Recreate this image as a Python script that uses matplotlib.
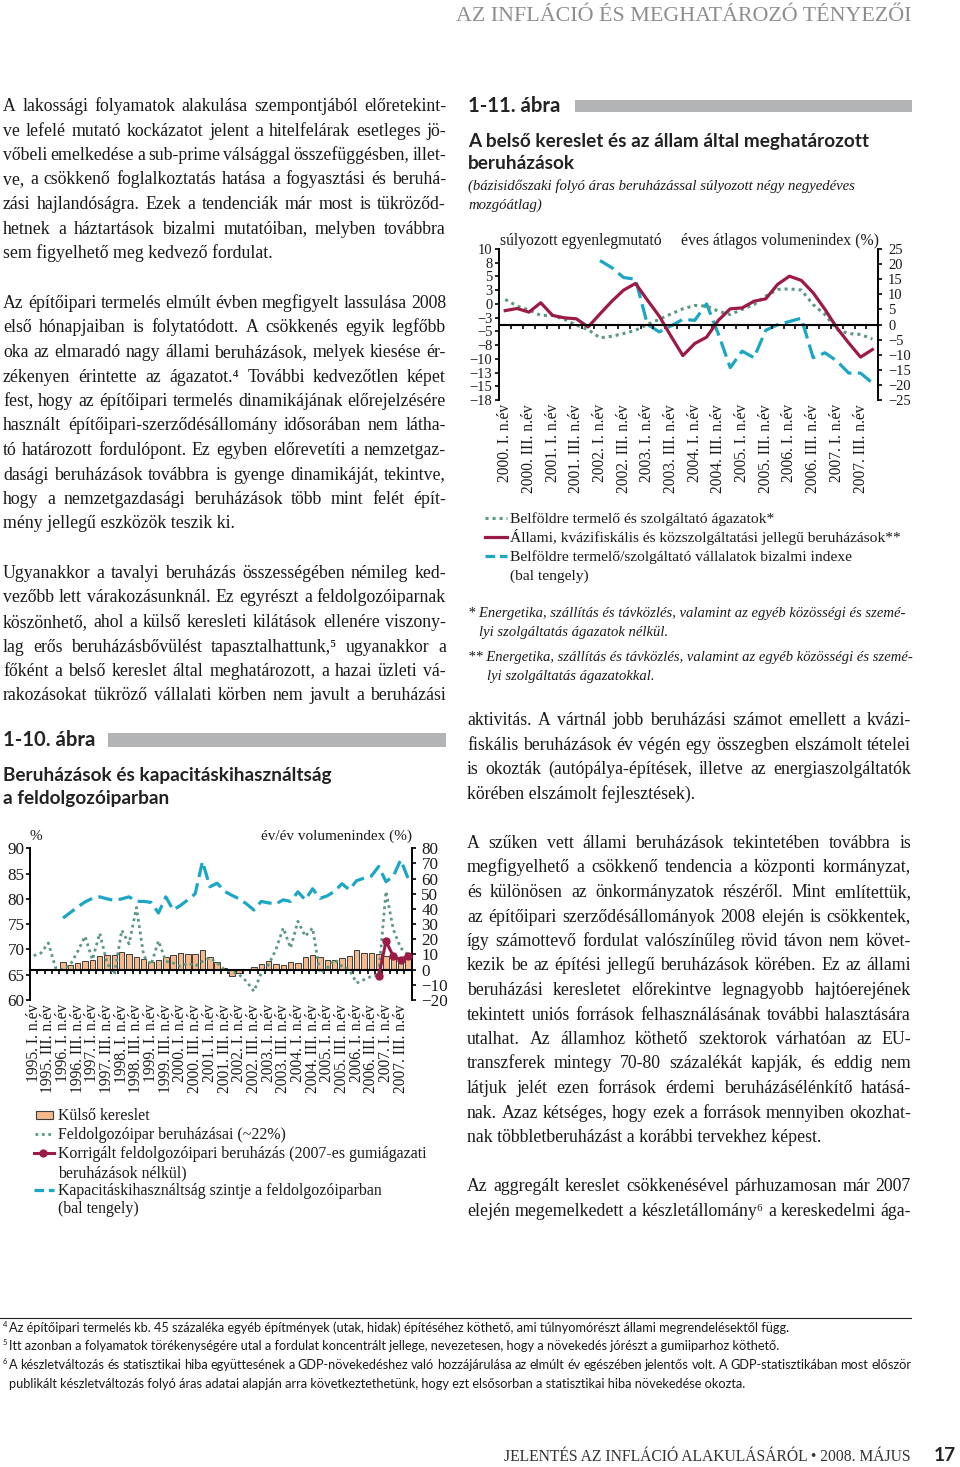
import numpy as np
import matplotlib
matplotlib.use("Agg")
import matplotlib.pyplot as plt
from matplotlib.lines import Line2D
from matplotlib.patches import Rectangle
from matplotlib.font_manager import FontProperties, fontManager

# ---------------- data: chart 1-11 (2000 Q1 .. 2007 Q4) ----------------
labels_11 = [f"{y}. {q}. n.év" for y in range(2000, 2008) for q in ("I", "III")]
red_11 = [4.6, 5.3, 4.1, 7.2, 3.0, 2.2, 1.9, -0.8, 3.5, 7.7, 11.4, 13.6, 8.1, 2.8, -3.9, -10.3,
          -6.3, -4.2, 1.4, 5.2, 5.5, 7.7, 8.5, 13.3, 16.0, 14.6, 10.5, 5.0, -1.1, -6.1, -10.8, -8.3]
green_11 = [8.3, 6.1, 4.8, 3.0, 3.0, 1.7, -0.2, -1.7, -4.4, -3.9, -3.0, -1.9, 0.0, 1.7, 3.5, 5.2,
            6.3, 6.1, 4.4, 3.3, 5.0, 6.6, 9.4, 11.6, 11.8, 11.4, 6.6, 3.3, -1.7, -3.0, -3.3, -4.8]
cyan_11 = [None] * 8 + [7.9, 6.6, 4.8, 4.5, -3.7, -5.1, -4.0, -2.8, -3.0, 0.0, -5.5, -11.6,
                        -8.6, -9.8, -4.8, -3.8, -3.2, -2.6, -9.8, -8.9, -10.4, -12.6, -12.6, -14.4]
left_ticks_11 = [10, 7.5, 5, 2.5, 0, -2.5, -5, -7.5, -10, -12.5, -15, -17.5]
left_ticklabels_11 = ["10", "8", "5", "3", "0", "−3", "−5", "−8", "−10", "−13", "−15", "−18"]
right_ticks_11 = [25, 20, 15, 10, 5, 0, -5, -10, -15, -20, -25]

# ---------------- data: chart 1-10 (1995 Q1 .. 2007 Q4) ----------------
labels_10 = [f"{y}. {q}. n.év" for y in range(1995, 2008) for q in ("I", "III")]
bars_10 = [None] * 4 + [5.1, 2.9, 4.4, 5.5, 6.6, 9.2, 9.9, 9.7, 11.4, 10.3,
                        8.6, 7.0, 5.1, 6.6, 8.1, 9.5, 11.0, 10.3, 10.3, 12.7,
                        8.4, 4.8, 1.1, -4.0, -2.2, 0.3, 1.8, 4.0, 5.5, 4.0,
                        3.3, 4.8, 4.4, 8.6, 9.7, 8.1, 6.6, 6.2, 7.7, 8.8,
                        13.2, 11.0, 11.0, 10.3, 8.8, 8.8, 7.7, 9.2]
green_10 = [9.2, 11.0, 17.6, 1.1, 0.0, 3.3, 12.0, 22.0, 6.6, 24.0, 4.4, -3.3, 26.0, 17.0, 41.0, 8.8,
            3.3, 19.0, 5.5, 4.4, 2.2, 4.4, 2.2, 5.5, 7.7, 4.4, 0.0, -1.1, -3.3, -7.7, -14.3, -2.2,
            3.3, 13.2, 27.5, 14.3, 31.9, 22.0, 27.5, -2.2, 1.1, 6.6, 2.2, 0.0, -8.8, -6.6, -4.4, -3.3,
            51.6, 26.4, 14.3, 9.9]
cyan_10 = [None] * 4 + [76.2, 77.3, 78.4, 79.4, 80.1, 80.4, 80.0, 79.7, 80.0, 80.4, 79.5, 79.5,
                        79.3, 77.2, 80.4, 77.8, 78.7, 79.8, 81.0, 87.4, 82.4, 83.1, 81.5, 80.7,
                        80.0, 79.0, 77.8, 79.5, 79.2, 79.0, 79.8, 79.5, 81.4, 79.8, 82.0, 80.1,
                        80.6, 81.5, 83.0, 81.8, 83.6, 84.1, 84.5, 86.4, 83.4, 84.5, 87.7, 84.1]
red_10 = [None] * 47 + [-4.4, 18.7, 8.8, 6.6, 9.2]
left_ticks_10 = [60, 65, 70, 75, 80, 85, 90]
right_ticks_10 = [-20, -10, 0, 10, 20, 30, 40, 50, 60, 70, 80]

# ---------------- page text ----------------
header_text = "AZ INFLÁCIÓ ÉS MEGHATÁROZÓ TÉNYEZŐI"
left_par1 = [
    "A lakossági folyamatok alakulása szempontjából előretekint-",
    "ve lefelé mutató kockázatot jelent a hitelfelárak esetleges jö-",
    "vőbeli emelkedése a sub-prime válsággal összefüggésben, illet-",
    "ve, a csökkenő foglalkoztatás hatása a fogyasztási és beruhá-",
    "zási hajlandóságra. Ezek a tendenciák már most is tükröződ-",
    "hetnek a háztartások bizalmi mutatóiban, melyben továbbra",
    "sem figyelhető meg kedvező fordulat.",
]
left_par2 = [
    "Az építőipari termelés elmúlt évben megfigyelt lassulása 2008",
    "első hónapjaiban is folytatódott. A csökkenés egyik legfőbb",
    "oka az elmaradó nagy állami beruházások, melyek kiesése ér-",
    "zékenyen érintette az ágazatot.⁴ További kedvezőtlen képet",
    "fest, hogy az építőipari termelés dinamikájának előrejelzésére",
    "használt építőipari-szerződésállomány idősorában nem látha-",
    "tó határozott fordulópont. Ez egyben előrevetíti a nemzetgaz-",
    "dasági beruházások továbbra is gyenge dinamikáját, tekintve,",
    "hogy a nemzetgazdasági beruházások több mint felét épít-",
    "mény jellegű eszközök teszik ki.",
]
left_par3 = [
    "Ugyanakkor a tavalyi beruházás összességében némileg ked-",
    "vezőbb lett várakozásunknál. Ez egyrészt a feldolgozóiparnak",
    "köszönhető, ahol a külső keresleti kilátások ellenére viszony-",
    "lag erős beruházásbővülést tapasztalhattunk,⁵ ugyanakkor a",
    "főként a belső kereslet által meghatározott, a hazai üzleti vá-",
    "rakozásokat tükröző vállalati körben nem javult a beruházási",
]
right_par1 = [
    "aktivitás. A vártnál jobb beruházási számot emellett a kvázi-",
    "fiskális beruházások év végén egy összegben elszámolt tételei",
    "is okozták (autópálya-építések, illetve az energiaszolgáltatók",
    "körében elszámolt fejlesztések).",
]
right_par2 = [
    "A szűken vett állami beruházások tekintetében továbbra is",
    "megfigyelhető a csökkenő tendencia a központi kormányzat,",
    "és különösen az önkormányzatok részéről. Mint említettük,",
    "az építőipari szerződésállományok 2008 elején is csökkentek,",
    "így számottevő fordulat valószínűleg rövid távon nem követ-",
    "kezik be az építési jellegű beruházások körében. Ez az állami",
    "beruházási keresletet előrekintve legnagyobb hajtóerejének",
    "tekintett uniós források felhasználásának további halasztására",
    "utalhat. Az államhoz köthető szektorok várhatóan az EU-",
    "transzferek mintegy 70-80 százalékát kapják, és eddig nem",
    "látjuk jelét ezen források érdemi beruházásélénkítő hatásá-",
    "nak. Azaz kétséges, hogy ezek a források mennyiben okozhat-",
    "nak többletberuházást a korábbi tervekhez képest.",
]
right_par3 = [
    "Az aggregált kereslet csökkenésével párhuzamosan már 2007",
    "elején megemelkedett a készletállomány⁶ a kereskedelmi ága-",
]
footnotes = [
    ("4", "Az építőipari termelés kb. 45 százaléka egyéb építmények (utak, hidak) építéséhez köthető, ami túlnyomórészt állami megrendelésektől függ."),
    ("5", "Itt azonban a folyamatok törékenységére utal a fordulat koncentrált jellege, nevezetesen, hogy a növekedés jórészt a gumiiparhoz köthető."),
    ("6", "A készletváltozás és statisztikai hiba együttesének a GDP-növekedéshez való hozzájárulása az elmúlt év egészében jelentős volt. A GDP-statisztikában most először"),
    ("", "publikált készletváltozás folyó áras adatai alapján arra következtethetünk, hogy ezt elsősorban a statisztikai hiba növekedése okozta."),
]
legend_11 = ["Belföldre termelő és szolgáltató ágazatok*",
             "Állami, kvázifiskális és közszolgáltatási jellegű beruházások**",
             "Belföldre termelő/szolgáltató vállalatok bizalmi indexe",
             "(bal tengely)"]
legend_10 = ["Külső kereslet",
             "Feldolgozóipar beruházásai (~22%)",
             "Korrigált feldolgozóipari beruházás (2007-es gumiágazati",
             "beruházások nélkül)",
             "Kapacitáskihasználtság szintje a feldolgozóiparban",
             "(bal tengely)"]
notes_11 = ["* Energetika, szállítás és távközlés, valamint az egyéb közösségi és szemé-",
            "lyi szolgáltatás ágazatok nélkül.",
            "** Energetika, szállítás és távközlés, valamint az egyéb közösségi és szemé-",
            "lyi szolgáltatás ágazatokkal."]

# ---------------- setup ----------------
W, H = 960, 1467
PT = 0.72
fig = plt.figure(figsize=(W / 100, H / 100), dpi=100)
fig.patch.set_facecolor("white")
renderer = fig.canvas.get_renderer()
names = {f.name for f in fontManager.ttflist}


def pick(*cands):
    for c in cands:
        if c in names:
            return c
    return "DejaVu Sans"


SERIF = [pick("Liberation Serif", "DejaVu Serif"), "DejaVu Serif"]
SANSB = [pick("Lato", "Open Sans", "DejaVu Sans"), "DejaVu Sans"]
NARROW = [pick("Liberation Sans Narrow", "Lato", "DejaVu Sans"), "DejaVu Sans"]
plt.rcParams["font.family"] = SERIF

INK = "#1a1a1a"
RED = "#9c1b45"
CYAN = "#1ba6c6"
GREEN = "#5c9a80"
ORANGE = "#f7b88a"
GRAYBAR = "#b2b4b6"


def fp(size, family=SERIF, style="normal", weight="normal"):
    return FontProperties(family=family, size=size * PT, style=style, weight=weight)


def tw(s, prop):
    w, h, d = renderer.get_text_width_height_descent(s, prop, ismath=False)
    return w


def fit(s, width, family=SERIF, style="normal", weight="normal"):
    ref = 20.0
    return ref * width / tw(s, fp(ref, family, style, weight))


def put(s, x, y, prop, color=INK, ha="left"):
    return fig.text(x / W, 1 - y / H, s, fontproperties=prop, color=color, ha=ha, va="baseline")


def justify(s, x0, x1, y, prop, color=INK):
    words = s.split(" ")
    ws = [tw(w, prop) for w in words]
    gap = (x1 - x0 - sum(ws)) / max(len(words) - 1, 1)
    x = x0
    for w, wd in zip(words, ws):
        put(w, x, y, prop, color)
        x += wd + gap


def paragraph(lines, x0, x1, y0, step, prop, last_justify=False):
    for k, s in enumerate(lines):
        y = y0 + k * step
        if k == len(lines) - 1 and not last_justify:
            put(s, x0, y, prop)
        else:
            justify(s, x0, x1, y, prop)


def frect(x0, y0, x1, y1, **kw):
    fig.add_artist(Rectangle((x0 / W, 1 - y1 / H), (x1 - x0) / W, (y1 - y0) / H,
                             transform=fig.transFigure, **kw))


def fline(x0, x1, y, **kw):
    fig.add_artist(Line2D([x0 / W, x1 / W], [1 - y / H, 1 - y / H], transform=fig.transFigure, **kw))


# ---------------- body text ----------------
justified = (left_par1[:-1] + left_par2[:-1] + left_par3 + right_par1[:-1] + right_par2[:-1] + right_par3)
ref_prop = fp(20.0)
cands = []
for s in justified:
    words = s.split(" ")
    wsum = sum(tw(w, ref_prop) for w in words) / 20.0
    cands.append(443.0 / (wsum + 0.18 * (len(words) - 1)))
body_size = min(cands)
BODY = fp(body_size)
STEP = 24.5
paragraph(left_par1, 3, 446, 111, STEP, BODY)
paragraph(left_par2, 3, 446, 308, STEP, BODY)
paragraph(left_par3, 3, 446, 578, STEP, BODY, last_justify=True)
paragraph(right_par1, 467, 911, 725, STEP, BODY)
paragraph(right_par2, 467, 911, 848, STEP, BODY)
paragraph(right_par3, 467, 911, 1191, STEP, BODY, last_justify=True)

# header / footer
put(header_text, 911, 21, fp(fit(header_text, 455)), color="#8e8e8e", ha="right")
foot = "JELENTÉS AZ INFLÁCIÓ ALAKULÁSÁRÓL • 2008. MÁJUS"
put(foot, 911, 1461, fp(fit(foot, 407)), color="#333333", ha="right")
put("17", 956, 1461, fp(fit("17", 22, SANSB, weight="bold"), SANSB, weight="bold"), color="#222222", ha="right")

# footnotes
fline(0, 911, 1318, color="#222222", lw=0.8)
fn_size = fit(footnotes[0][1], 778, NARROW)
FN = fp(fn_size, NARROW)
FNS = fp(fn_size * 0.6, NARROW)
fn_y = [1332, 1350, 1369, 1388]
for (num, s), y in zip(footnotes, fn_y):
    if num:
        put(num, 3, y - 5, FNS)
    if num == "6":
        justify(s, 9, 911, y, FN)
    else:
        put(s, 9, y, FN)

# ---------------- chart titles ----------------
ttl_size = fit("A belső kereslet és az állam által meghatározott", 400, SANSB, weight="bold")
TTL = fp(ttl_size, SANSB, weight="bold")
num_size = fit("1-11. ábra", 92, SANSB, weight="bold")
NUM = fp(num_size, SANSB, weight="bold")

put("1-11. ábra", 468, 112.5, NUM, color="#222222")
frect(575, 100, 912, 112, facecolor=GRAYBAR, edgecolor="none")
put("A belső kereslet és az állam által meghatározott", 468, 146.5, TTL, color="#222222")
put("beruházások", 468, 169, TTL, color="#222222")
sub1 = "(bázisidőszaki folyó áras beruházással súlyozott négy negyedéves"
SUB = fp(fit(sub1, 385, SERIF, style="italic"), SERIF, style="italic")
put(sub1, 468, 190, SUB)
put("mozgóátlag)", 468, 209, SUB)

put("1-10. ábra", 3, 746, NUM, color="#222222")
frect(108, 733, 446, 747, facecolor=GRAYBAR, edgecolor="none")
put("Beruházások és kapacitáskihasználtság", 3, 781.5, TTL, color="#222222")
put("a feldolgozóiparban", 3, 804, TTL, color="#222222")


# ---------------- charts ----------------
def make_chart(left, right, top, bottom, n, ylim_l, ylim_r, lt, ltl, rt, rtl, xlabels,
               ysize, xsize, lpad, rpad):
    ax = fig.add_axes([left / W, 1 - bottom / H, (right - left) / W, (bottom - top) / H])
    axr = ax.twinx()
    ax.set_xlim(-0.5, n - 0.5)
    ax.set_ylim(*ylim_l)
    axr.set_ylim(*ylim_r)
    ax.set_xticks(np.arange(0, n, 2))
    ax.set_xticklabels(xlabels, rotation=90, fontsize=xsize * PT, color=INK)
    ax.set_xticks(np.arange(0.5, n - 1, 1.0), minor=True)
    ax.tick_params(axis="x", which="both", length=0, pad=3)
    ax.set_yticks(lt)
    ax.set_yticklabels(ltl, fontsize=ysize * PT, color=INK)
    ax.tick_params(axis="y", direction="out", length=3, width=1.2, pad=lpad)
    axr.set_yticks(rt)
    axr.set_yticklabels(rtl, fontsize=ysize * PT, color=INK)
    axr.tick_params(axis="y", direction="out", length=3, width=1.2, pad=rpad)
    for s in ("top", "right", "bottom"):
        ax.spines[s].set_visible(False)
    for s in ("top", "left"):
        axr.spines[s].set_visible(False)
    ax.spines["left"].set_linewidth(1.4)
    axr.spines["right"].set_linewidth(1.4)
    axr.xaxis.set_visible(True)
    axr.spines["bottom"].set_visible(True)
    axr.spines["bottom"].set_position(("data", 0))
    axr.spines["bottom"].set_linewidth(1.5)
    axr.tick_params(axis="x", which="both", labelbottom=False, labeltop=False, top=False, bottom=True)
    axr.tick_params(axis="x", which="major", length=0)
    axr.tick_params(axis="x", which="minor", length=3, width=1.2, direction="out")
    return ax, axr


def arr(v):
    return np.array([np.nan if a is None else a for a in v], dtype=float)


def signed(v):
    return [str(a).replace("-", "−") for a in v]


# chart 1-11
n11 = len(red_11)
x11 = np.arange(n11)
ax1, ax1r = make_chart(499.3, 878.3, 249, 400, n11, (-17.5, 10), (-25, 25),
                       left_ticks_11, left_ticklabels_11, right_ticks_11, signed(right_ticks_11),
                       labels_11, 14.5, 15.5, 2.0, 4.0)
ax1.plot(x11, arr(cyan_11), color=CYAN, lw=2.3, dashes=(5, 2))
ax1r.plot(x11, arr(green_11), color=GREEN, lw=2.2, ls=(0, (1, 1.3)))
ax1r.plot(x11, arr(red_11), color=RED, lw=2.3)

LEG11 = fp(fit(legend_11[1], 392), SERIF)
hdr11 = fp(fit("súlyozott egyenlegmutató", 162))
put("súlyozott egyenlegmutató", 500, 245, hdr11)
put("éves átlagos volumenindex (%)", 879, 245, hdr11, ha="right")
leg_y11 = [518, 537, 556]
fline(485, 507, leg_y11[0], color=GREEN, lw=2.2, ls=(0, (1, 1.3)))
fline(485, 507, leg_y11[1], color=RED, lw=2.3)
fline(485, 507, leg_y11[2], color=CYAN, lw=2.3, dashes=(3, 1.5))
for s, y in zip(legend_11, [523, 542, 561, 580]):
    put(s, 510, y, LEG11)

NOTE = fp(fit(notes_11[2], 440, SERIF, style="italic"), SERIF, style="italic")
put(notes_11[0], 468, 617, NOTE)
put(notes_11[1], 479, 636, NOTE)
put(notes_11[2], 468, 661, NOTE)
put(notes_11[3], 487, 680, NOTE)

# chart 1-10
n10 = len(green_10)
x10 = np.arange(n10)
ax2, ax2r = make_chart(30, 411.7, 848.3, 1000, n10, (60, 90), (-20, 80),
                       left_ticks_10, [str(v) for v in left_ticks_10],
                       right_ticks_10, signed(right_ticks_10),
                       labels_10, 17, 15.5, 1.0, 4)
b = arr(bars_10)
m = ~np.isnan(b)
ax2r.bar(x10[m], b[m], width=0.74, color=ORANGE, edgecolor="#3d3d3d", linewidth=0.7, zorder=1)
ax2r.plot(x10, arr(green_10), color=GREEN, lw=2.0, ls=(0, (1, 1.3)), zorder=2)
ax2r.plot(x10, arr(red_10), color=RED, lw=2.2, marker="o", ms=5, zorder=3)
ax2.plot(x10, arr(cyan_10), color=CYAN, lw=2.3, dashes=(4.5, 2))

hdr10 = fp(fit("év/év volumenindex (%)", 150))
put("%", 30, 840, hdr10)
put("év/év volumenindex (%)", 412, 840, hdr10, ha="right")

LEG10 = fp(fit(legend_10[2], 369), SERIF)
frect(36, 1111, 53, 1119, facecolor=ORANGE, edgecolor="#3d3d3d", linewidth=0.8)
fline(35, 54, 1134, color=GREEN, lw=2.0, ls=(0, (1, 1.3)))
fline(34, 54, 1153, color=RED, lw=2.2)
fig.add_artist(Line2D([43 / W], [1 - 1153 / H], transform=fig.transFigure, color=RED, marker="o", ms=5))
fline(34, 54, 1190, color=CYAN, lw=2.3, dashes=(3, 1.5))
for s, y in zip(legend_10, [1120, 1139, 1158, 1177, 1195, 1213]):
    put(s, 58, y, LEG10)

fig.savefig("out.png", dpi=100, facecolor="white")
